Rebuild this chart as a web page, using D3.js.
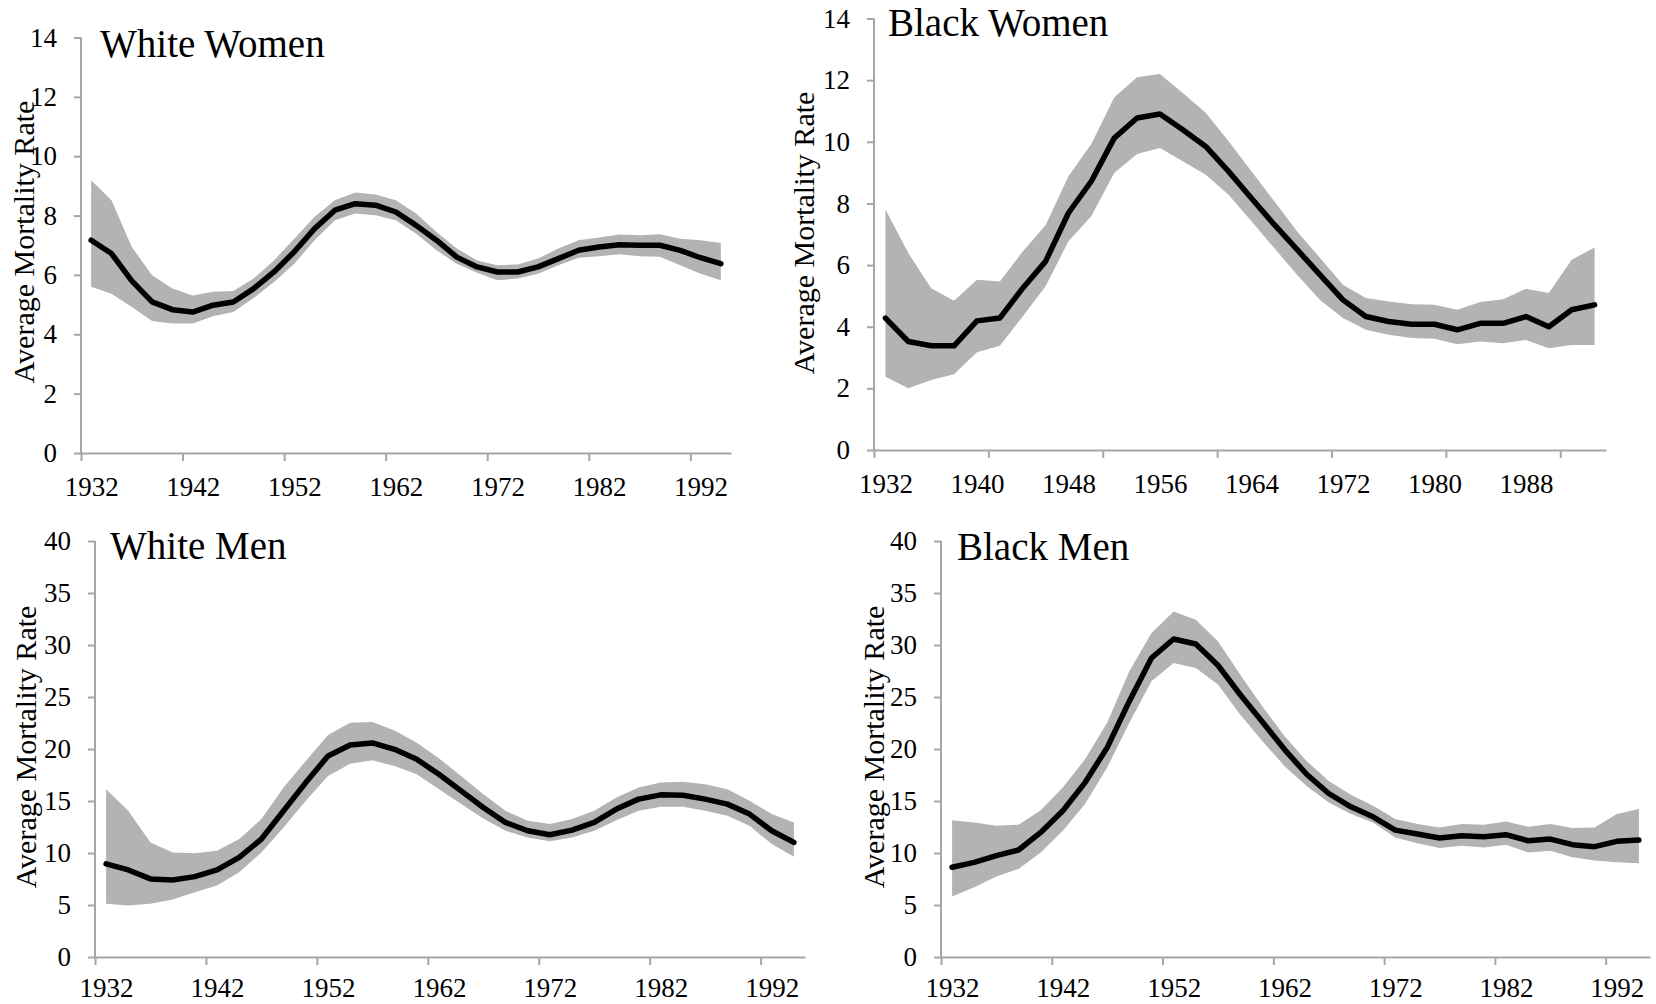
<!DOCTYPE html>
<html>
<head>
<meta charset="utf-8">
<script src="https://cdn.jsdelivr.net/npm/d3@7"></script>
<style>
  body { margin: 0; background: #fff; }
  svg { display: block; font-family: "Liberation Serif", serif; }
</style>
</head>
<body>
<svg id="chart" width="1656" height="1004"></svg>
<script>
// categories: one point every 2 years
const years = [1932, 1934, 1936, 1938, 1940, 1942, 1944, 1946, 1948, 1950, 1952, 1954, 1956, 1958, 1960, 1962,
  1964, 1966, 1968, 1970, 1972, 1974, 1976, 1978, 1980, 1982, 1984, 1986, 1988, 1990, 1992, 1994];

const womenTicks = [0, 2, 4, 6, 8, 10, 12, 14];
const menTicks = [0, 5, 10, 15, 20, 25, 30, 35, 40];

// White Women
const wwMean = [7.17, 6.72, 5.8, 5.09, 4.83, 4.75, 4.98, 5.09, 5.54, 6.1, 6.78, 7.56, 8.18, 8.4, 8.35, 8.12,
  7.67, 7.17, 6.6, 6.27, 6.1, 6.1, 6.27, 6.55, 6.83, 6.94, 7.02, 7.0, 7.0, 6.83, 6.58, 6.38];
const wwHigh = [9.19, 8.52, 6.94, 5.99, 5.54, 5.31, 5.43, 5.46, 5.88, 6.49, 7.22, 7.96, 8.52, 8.78, 8.71, 8.52,
  8.07, 7.45, 6.89, 6.49, 6.33, 6.35, 6.55, 6.89, 7.17, 7.26, 7.36, 7.34, 7.37, 7.22, 7.17, 7.08];
const wwLow = [5.6, 5.37, 4.92, 4.45, 4.36, 4.36, 4.61, 4.75, 5.22, 5.76, 6.38, 7.17, 7.84, 8.07, 8.01, 7.84,
  7.39, 6.83, 6.38, 6.07, 5.82, 5.88, 6.04, 6.33, 6.58, 6.63, 6.7, 6.63, 6.61, 6.33, 6.04, 5.82];

// Black Women
const bwMean = [4.28, 3.52, 3.38, 3.38, 4.19, 4.28, 5.25, 6.12, 7.69, 8.72, 10.12, 10.77, 10.9, 10.39, 9.85, 9.04,
  8.17, 7.31, 6.5, 5.68, 4.87, 4.33, 4.17, 4.08, 4.08, 3.9, 4.11, 4.11, 4.33, 4.0, 4.55, 4.71];
const bwHigh = [7.8, 6.39, 5.25, 4.84, 5.52, 5.47, 6.44, 7.29, 8.88, 9.93, 11.44, 12.09, 12.2, 11.58, 10.94, 10.02,
  9.04, 8.07, 7.09, 6.23, 5.36, 4.93, 4.82, 4.73, 4.71, 4.55, 4.8, 4.89, 5.23, 5.09, 6.17, 6.57];
const bwLow = [2.38, 2.0, 2.27, 2.46, 3.17, 3.38, 4.33, 5.31, 6.77, 7.58, 8.99, 9.6, 9.8, 9.37, 8.93, 8.28,
  7.42, 6.55, 5.68, 4.87, 4.28, 3.9, 3.74, 3.63, 3.61, 3.43, 3.52, 3.46, 3.57, 3.3, 3.41, 3.41];

// White Men
const wmMean = [8.95, 8.37, 7.51, 7.41, 7.73, 8.37, 9.58, 11.34, 14.06, 16.77, 19.33, 20.38, 20.58, 19.97, 19.01, 17.57,
  15.97, 14.38, 12.94, 12.14, 11.76, 12.2, 12.94, 14.22, 15.18, 15.59, 15.56, 15.18, 14.7, 13.74, 12.14, 11.02];
const wmHigh = [16.13, 14.06, 11.02, 10.06, 9.97, 10.22, 11.34, 13.26, 16.29, 18.85, 21.34, 22.52, 22.59, 21.79, 20.61, 19.1,
  17.41, 15.65, 14.06, 13.1, 12.78, 13.26, 14.06, 15.34, 16.29, 16.77, 16.84, 16.61, 16.13, 15.02, 13.74, 12.94];
const wmLow = [5.11, 4.95, 5.11, 5.53, 6.23, 6.87, 8.15, 10.06, 12.46, 15.02, 17.41, 18.59, 18.91, 18.37, 17.57, 16.13,
  14.7, 13.32, 12.14, 11.5, 11.12, 11.5, 12.14, 13.16, 14.06, 14.44, 14.44, 14.06, 13.58, 12.62, 10.86, 9.65];

// Black Men
const bmMean = [8.63, 9.1, 9.74, 10.29, 11.98, 14.06, 16.77, 20.13, 24.6, 28.75, 30.58, 30.1, 28.05, 25.24, 22.62, 19.97,
  17.57, 15.72, 14.44, 13.48, 12.2, 11.82, 11.44, 11.66, 11.57, 11.76, 11.18, 11.34, 10.8, 10.61, 11.12, 11.25];
const bmHigh = [13.16, 12.94, 12.62, 12.72, 14.12, 16.29, 19.01, 22.52, 27.48, 31.15, 33.23, 32.43, 30.35, 27.16, 24.12, 21.25,
  18.85, 16.93, 15.59, 14.54, 13.26, 12.78, 12.46, 12.78, 12.72, 13.04, 12.52, 12.78, 12.4, 12.46, 13.74, 14.22];
const bmLow = [5.81, 6.71, 7.73, 8.47, 10.06, 12.14, 14.7, 18.21, 22.52, 26.52, 28.27, 27.8, 26.2, 23.32, 20.77, 18.37,
  16.45, 14.86, 13.74, 12.94, 11.5, 10.93, 10.48, 10.7, 10.54, 10.8, 10.06, 10.22, 9.58, 9.27, 9.1, 9.01];

const svg = d3.select("#chart");
const axisColor = "#a6a6a6";

// one panel: box in page pixels, ymax, label step (in categories)
const panel = (p) => {
  const n = years.length;
  // x works on category index, boundaries at integers, centres at i + 0.5
  const x = d3.scaleLinear().domain([0, n]).range([p.x0, p.x1]);
  const y = d3.scaleLinear().domain([0, p.ymax]).range([p.y0, p.y1]);

  const g = svg.append("g");
  const rows = years.map((yr, i) => ({ i, mean: p.mean[i], lo: p.low[i], hi: p.high[i] }));

  g.append("path")
    .datum(rows)
    .attr("fill", "#b3b3b3")
    .attr("d", d3.area()
      .x(d => x(d.i + 0.5))
      .y0(d => y(d.lo))
      .y1(d => y(d.hi)));

  g.append("path")
    .datum(rows)
    .attr("fill", "none")
    .attr("stroke", "#000")
    .attr("stroke-width", 5.5)
    .attr("stroke-linejoin", "round")
    .attr("stroke-linecap", "round")
    .attr("d", d3.line()
      .x(d => x(d.i + 0.5))
      .y(d => y(d.mean)));

  // y axis
  const ya = g.append("g")
    .attr("transform", `translate(${p.x0},0)`)
    .call(d3.axisLeft(y).tickValues(p.ticks).tickSize(7).tickPadding(17).tickFormat(d3.format("d")));

  // x axis: tick marks every 5 categories at boundaries
  const tickIdx = d3.range(0, n, 5);
  const xa = g.append("g")
    .attr("transform", `translate(0,${p.y0})`)
    .call(d3.axisBottom(x).tickValues(tickIdx).tickSize(8).tickSizeOuter(0).tickFormat(""));

  // x labels at category centres
  const labelIdx = d3.range(0, n, p.labelStep).map(i => i + 0.5);
  const xl = g.append("g")
    .attr("transform", `translate(0,${p.y0})`)
    .call(d3.axisBottom(x).tickValues(labelIdx).tickSize(0).tickPadding(p.pad)
      .tickFormat(v => years[Math.floor(v)]));
  xl.select(".domain").remove();

  [ya, xa, xl].forEach(a => {
    a.selectAll("text").attr("font-size", 27).attr("fill", "#000").attr("font-family", "Liberation Serif");
    a.selectAll("line").attr("stroke", axisColor).attr("stroke-width", 2);
    a.select(".domain").attr("stroke", axisColor).attr("stroke-width", 2);
  });
  ya.select(".domain").attr("d", `M0,${p.y1}V${p.y0}`);

  g.append("text")
    .attr("x", p.tx)
    .attr("y", p.ty)
    .attr("font-size", 39)
    .text(p.title);

  g.append("text")
    .attr("transform", `translate(${p.lx},${p.ly}) rotate(-90)`)
    .attr("text-anchor", "middle")
    .attr("dominant-baseline", "central")
    .attr("font-size", 30)
    .text("Average Mortality Rate");
};

panel({ title: "White Women", mean: wwMean, low: wwLow, high: wwHigh, ymax: 14, ticks: womenTicks,
  x0: 81, x1: 731, y0: 453, y1: 37.5, labelStep: 5, pad: 24, tx: 100, ty: 57, lx: 23, ly: 242 });
panel({ title: "Black Women", mean: bwMean, low: bwLow, high: bwHigh, ymax: 14, ticks: womenTicks,
  x0: 874, x1: 1606, y0: 450, y1: 18.5, labelStep: 4, pad: 24, tx: 888, ty: 36, lx: 803, ly: 233 });
panel({ title: "White Men", mean: wmMean, low: wmLow, high: wmHigh, ymax: 40, ticks: menTicks,
  x0: 95, x1: 805, y0: 957, y1: 541, labelStep: 5, pad: 21, tx: 110, ty: 559, lx: 25, ly: 747 });
panel({ title: "Black Men", mean: bmMean, low: bmLow, high: bmHigh, ymax: 40, ticks: menTicks,
  x0: 941, x1: 1650, y0: 957, y1: 541, labelStep: 5, pad: 21, tx: 957, ty: 560, lx: 873, ly: 747 });
</script>
</body>
</html>
